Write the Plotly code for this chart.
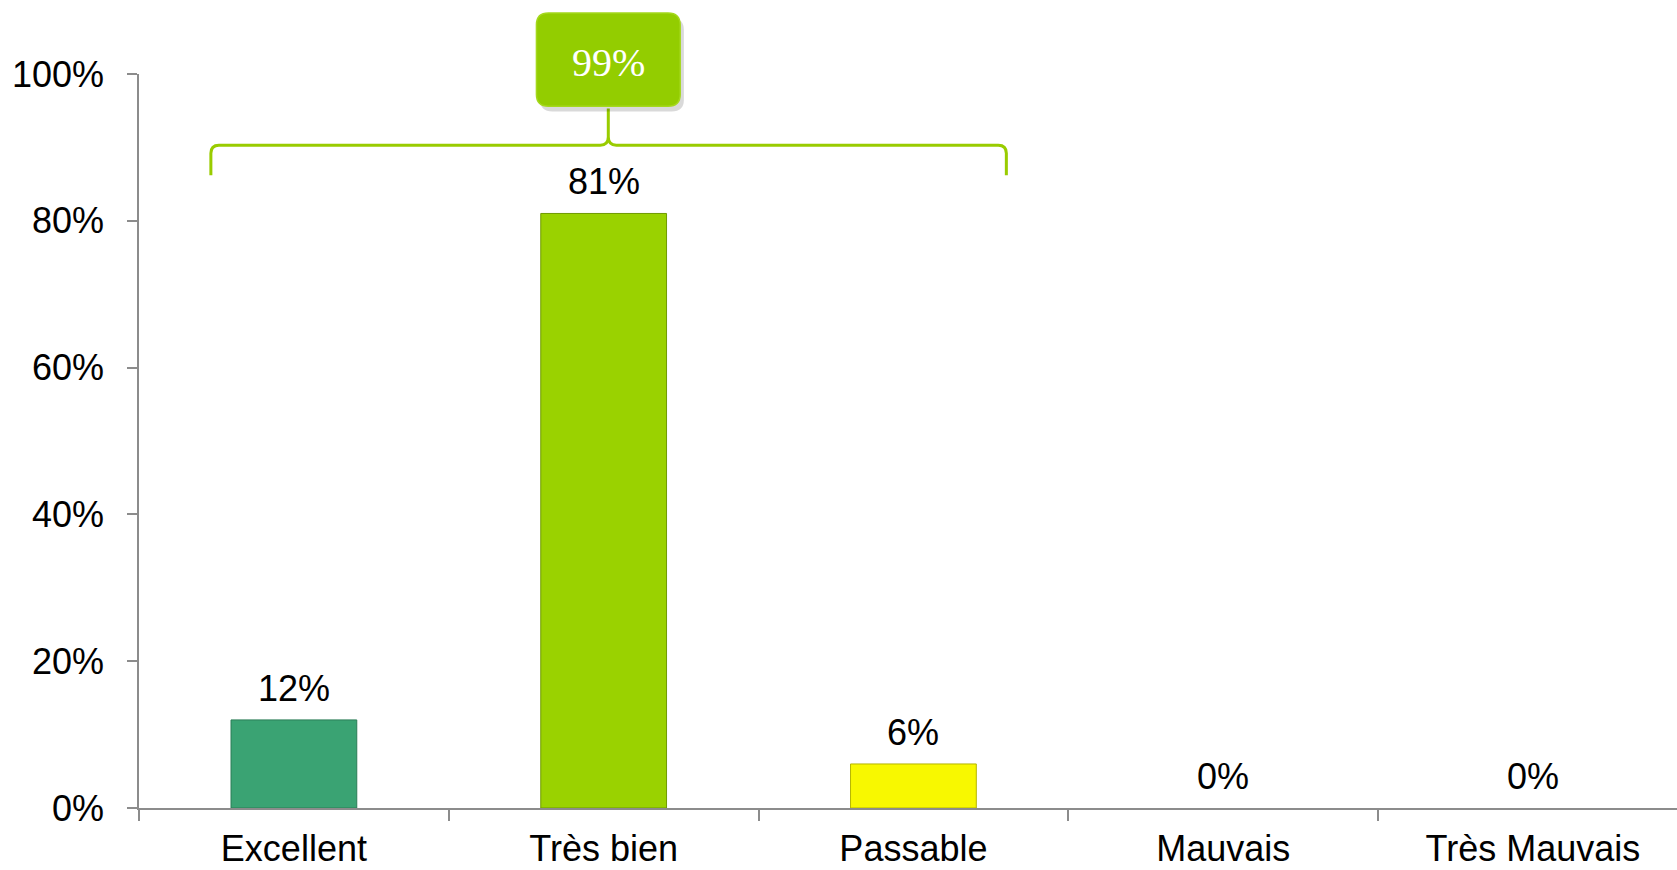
import plotly.graph_objects as go

# Data
categories = ['Excellent', 'Très bien', 'Passable', 'Mauvais', 'Très Mauvais']
values = [0.12, 0.81, 0.06, 0.0, 0.0]
bar_colors = ['#3aa373', '#9ad200', '#f8f800', 'rgba(0,0,0,0)', 'rgba(0,0,0,0)']
line_colors = ['#2b7d57', '#6f9a00', '#b5b500', 'rgba(0,0,0,0)', 'rgba(0,0,0,0)']
total_label = '99%'
y_ticks = [0, 0.2, 0.4, 0.6, 0.8, 1.0]

FONT = 'Liberation Sans, Arial, sans-serif'
GREEN = '#99cc00'

fig = go.Figure()
fig.add_trace(go.Bar(
    x=categories, y=values, width=0.406,
    marker=dict(color=bar_colors, line=dict(color=line_colors, width=1)),
    hoverinfo='skip',
))

# value labels above bars
for c, v in zip(categories, values):
    fig.add_annotation(x=c, y=v, text=f'{v:.0%}', showarrow=False,
                       yanchor='bottom', yshift=9,
                       font=dict(family=FONT, size=36, color='black'))

# brace over the first three categories (x in category units, y in paper units)
xl, xm, xr = -0.268, 1.015, 2.30
yb, yh, ytop = 0.862, 0.903, 0.953
rx, ry = 0.026, 0.011
brace = (f'M {xl},{yb} L {xl},{yh - ry} Q {xl},{yh} {xl + rx},{yh} '
         f'L {xm - rx},{yh} Q {xm},{yh} {xm},{yh + ry} L {xm},{ytop} '
         f'L {xm},{yh + ry} Q {xm},{yh} {xm + rx},{yh} '
         f'L {xr - rx},{yh} Q {xr},{yh} {xr},{yh - ry} L {xr},{yb}')
fig.add_shape(type='path', path=brace, xref='x', yref='paper',
              line=dict(color=GREEN, width=3))

# callout box
def rounded_box(x0, x1, y0, y1, rx, ry):
    return (f'M {x0 + rx},{y0} L {x1 - rx},{y0} Q {x1},{y0} {x1},{y0 + ry} '
            f'L {x1},{y1 - ry} Q {x1},{y1} {x1 - rx},{y1} '
            f'L {x0 + rx},{y1} Q {x0},{y1} {x0},{y1 - ry} '
            f'L {x0},{y0 + ry} Q {x0},{y0} {x0 + rx},{y0} Z')

bx0, bx1, by0, by1 = xm - 0.232, xm + 0.232, 0.956, 1.083
fig.add_shape(type='path', xref='x', yref='paper',
              path=rounded_box(bx0 + 0.012, bx1 + 0.012, by0 - 0.007, by1 - 0.007, 0.039, 0.016),
              fillcolor='rgba(0,0,0,0.15)', line=dict(width=0))
fig.add_shape(type='path', xref='x', yref='paper',
              path=rounded_box(bx0, bx1, by0, by1, 0.039, 0.016),
              fillcolor='#93cd00', line=dict(color='#a4d81c', width=1.5))
fig.add_annotation(x=xm, y=(by0 + by1) / 2, xref='x', yref='paper', text=total_label,
                   showarrow=False, yanchor='middle', xanchor='center', yshift=-3,
                   font=dict(family='Liberation Serif, serif', size=40, color='white'))

fig.update_layout(
    width=1677, height=870,
    margin=dict(l=139, r=0, t=73.5, b=62),
    plot_bgcolor='white', paper_bgcolor='white',
    showlegend=False,
    font=dict(family=FONT, size=36, color='black'),
    bargap=0.5,
)
fig.update_xaxes(
    type='category', range=[-0.5, 4.465], automargin=False,
    showline=True, linecolor='#8c8c8c', linewidth=1.5,
    ticks='outside', tickson='boundaries', ticklen=11, tickcolor='#8c8c8c', tickwidth=1.5,
    showgrid=False, tickfont=dict(size=36), ticklabelstandoff=8,
)
fig.update_yaxes(
    range=[0, 1], tickvals=y_ticks, tickformat='.0%', automargin=False,
    showline=True, linecolor='#8c8c8c', linewidth=1.5,
    ticks='outside', ticklen=10, tickcolor='#8c8c8c', tickwidth=1.5,
    showgrid=False, zeroline=False, tickfont=dict(size=36), ticklabelstandoff=16,
)

# drop the default body margin so the figure sits flush with the window
fig.write_html('out.html', config={'displayModeBar': False},
               post_script="document.body.style.margin='0';")
